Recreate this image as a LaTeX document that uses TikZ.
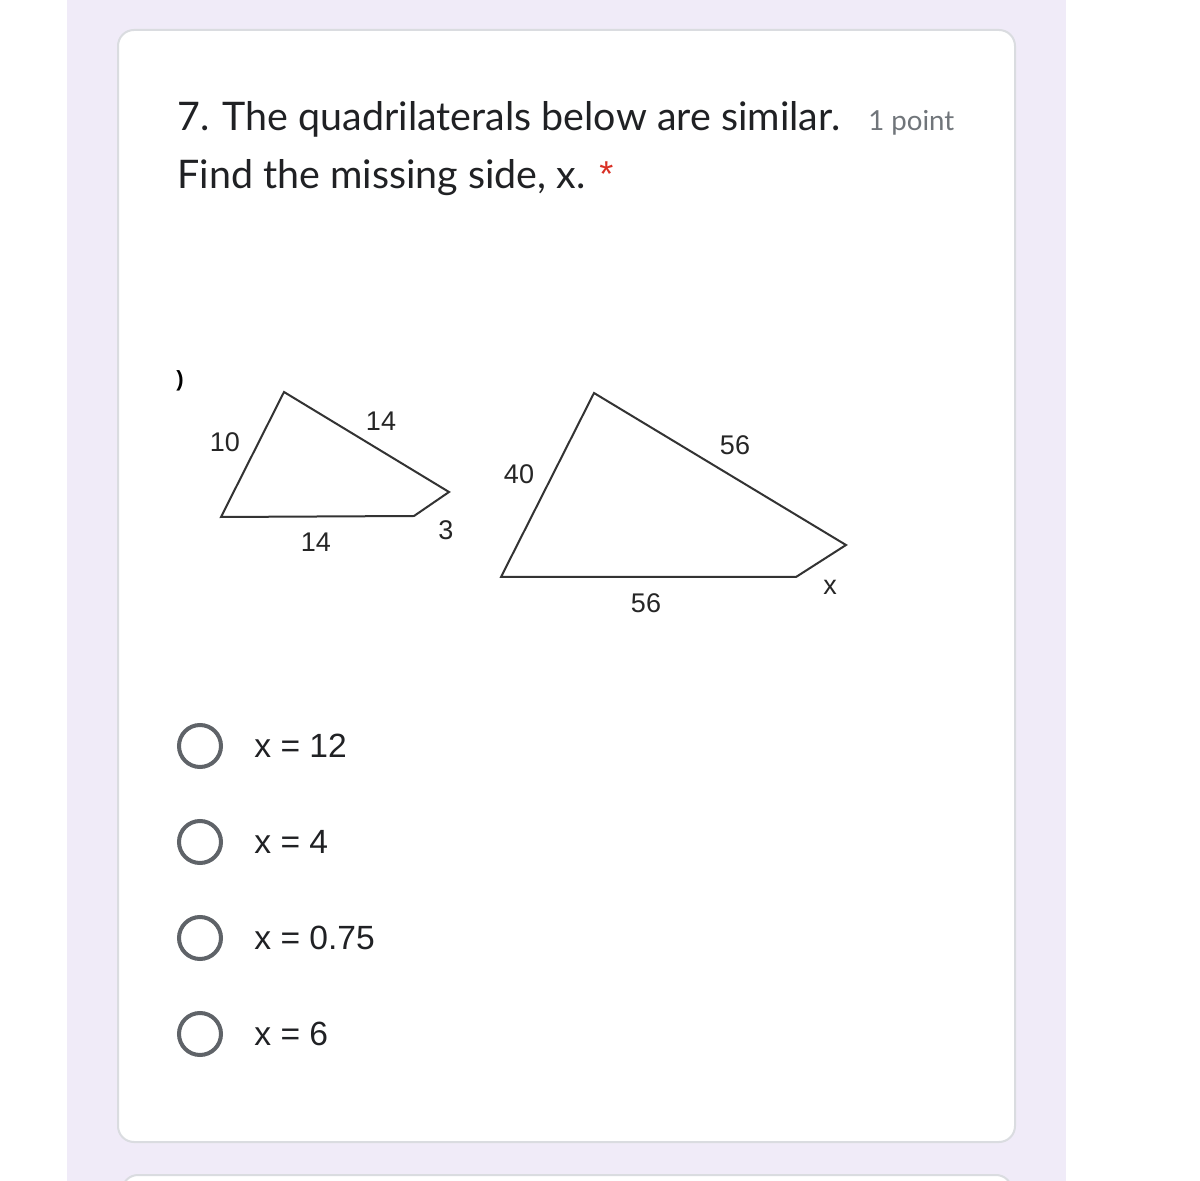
\documentclass[tikz,border=0pt]{standalone}
\usepackage{fontspec}
\setmainfont{Open Sans}
\newfontfamily\qfont{Lato}
\newfontfamily\afont{Liberation Sans}
\definecolor{lav}{HTML}{F0EBF8}
\definecolor{cardline}{HTML}{DADCE0}
\definecolor{radio}{HTML}{5F6368}
\definecolor{ptgray}{HTML}{70757A}
\definecolor{req}{HTML}{D93025}
\definecolor{qtext}{HTML}{202124}
\tikzset{
  card/.style={fill=white,draw=cardline,line width=1pt,rounded corners=8pt},
  quad/.style={draw=black!80,line width=1pt,line join=miter},
  lbl/.style={font=\afont\fontsize{13.5}{15}\selectfont,text=black!85,inner sep=0pt},
  radiob/.style={circle,draw=radio,line width=2pt,minimum size=21pt,inner sep=0pt},
  opt/.style={font=\afont\fontsize{16.8}{19}\selectfont,text=qtext,anchor=west,inner sep=0pt},
  qtxt/.style={anchor=base west,inner sep=0pt,text=qtext,font=\qfont\fontsize{19.7}{22}\selectfont},
}
\begin{document}
\begin{tikzpicture}[x=0.5pt,y=-0.5pt]
\useasboundingbox (0,0) rectangle (1200,1181);
\fill[white] (0,0) rectangle (1200,1181);
\fill[lav] (67,0) rectangle (1066,1181);
\draw[card] (118,30) rectangle (1015,1142);
\draw[card] (122,1175) rectangle (1012,1230);
% question
\node[qtxt] (q1) at (177,131) {7. The quadrilaterals below are similar.};
\node[anchor=base west,inner sep=0pt,text=ptgray,font=\qfont\fontsize{13.8}{15}\selectfont] (pt) at (868,131) {1 point};
\node[qtxt] (q2) at (177,189) {Find the missing side, x.};
\node[anchor=base west,inner sep=0pt,text=req,font=\afont\fontsize{18}{20}\selectfont] (ast) at (599,187) {*};
% stray mark
\node[inner sep=0pt,font=\afont\bfseries\fontsize{11}{13}\selectfont] (par) at (180,381) {)};
% small quadrilateral
\coordinate (a1) at (284,392);
\coordinate (b1) at (449,492);
\coordinate (c1) at (414,516);
\coordinate (d1) at (221,517);
\draw[quad] (a1) -- (b1) -- (c1) -- (d1) -- cycle;
\node[lbl] (s10) at (225,442) {10};
\node[lbl] (s14a) at (381,421) {14};
\node[lbl] (s14b) at (316,542) {14};
\node[lbl] (s3) at (446,530) {3};
% large quadrilateral
\coordinate (a2) at (594,393);
\coordinate (b2) at (846,545);
\coordinate (c2) at (796,577);
\coordinate (d2) at (501,577);
\draw[quad] (a2) -- (b2) -- (c2) -- (d2) -- cycle;
\node[lbl] (l40) at (519,474) {40};
\node[lbl] (l56a) at (735,445) {56};
\node[lbl] (l56b) at (646,603) {56};
\node[lbl] (lx) at (830,587) {x};
% options
\foreach \i/\t/\yy in {1/{x = 12}/746,2/{x = 4}/842,3/{x = 0.75}/938,4/{x = 6}/1034}{
  \node[radiob] (r\i) at (200,\yy) {};
  \node[opt] (o\i) at (254,\yy) {\t};
}
\end{tikzpicture}
\end{document}
